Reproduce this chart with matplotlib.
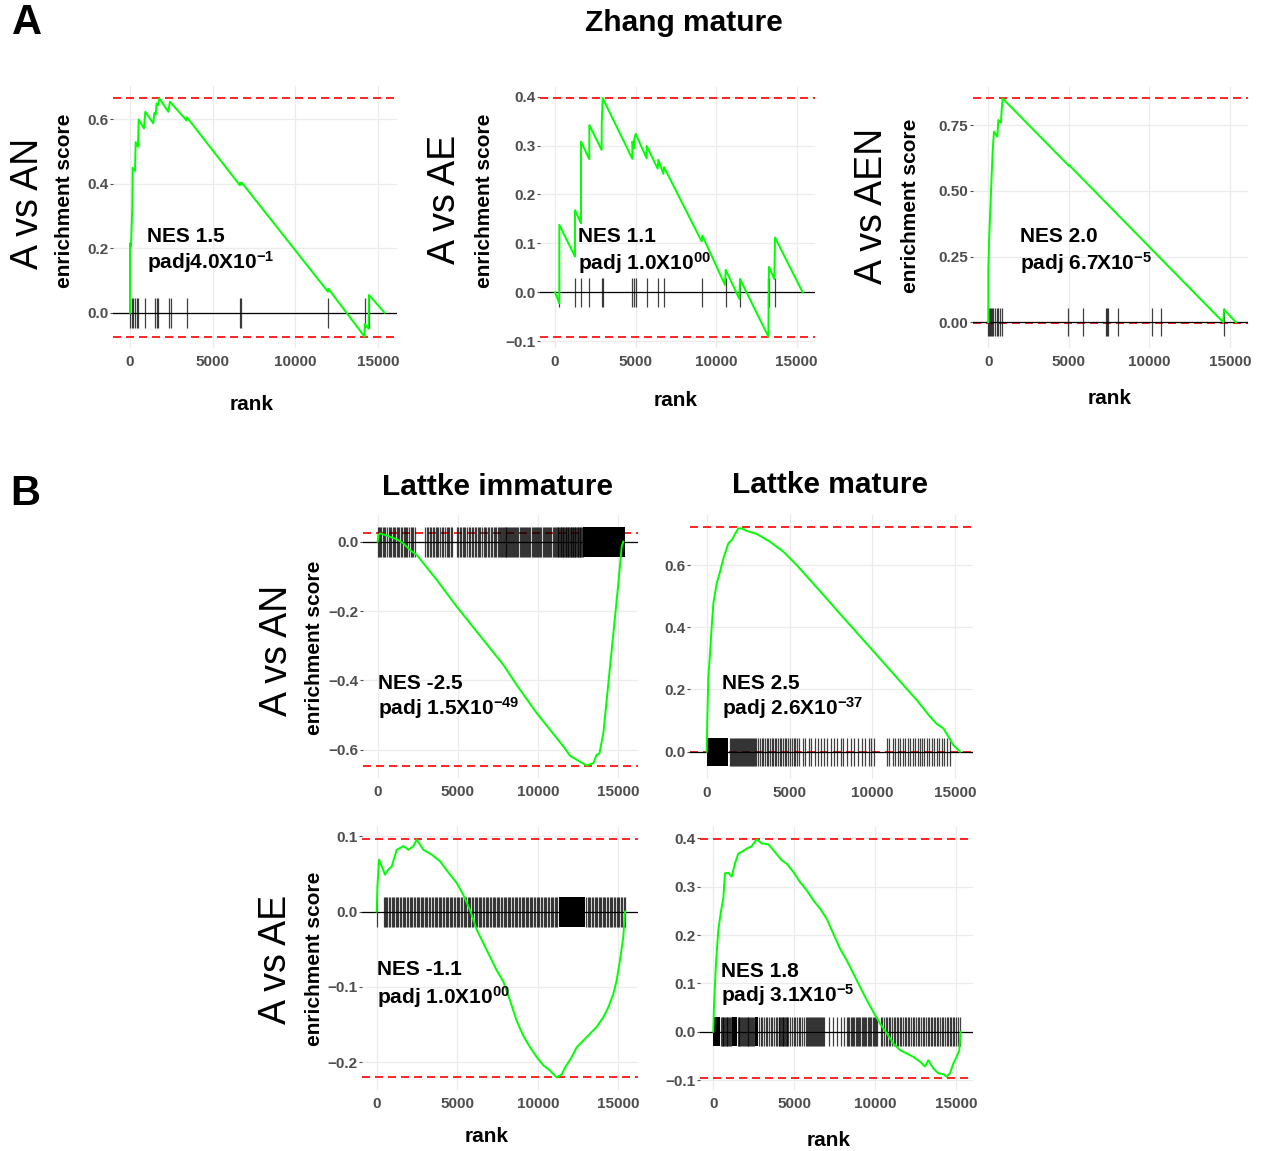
import matplotlib
matplotlib.use("Agg")
import matplotlib.pyplot as plt

plt.rcParams['font.family'] = ['Liberation Sans', 'DejaVu Sans']
plt.rcParams['mathtext.fontset'] = 'custom'
plt.rcParams['mathtext.rm'] = 'Liberation Sans:bold'
plt.rcParams['mathtext.it'] = 'Liberation Sans:bold'
plt.rcParams['mathtext.bf'] = 'Liberation Sans:bold'
plt.rcParams['mathtext.default'] = 'rm'

# ---------------- data ----------------
x_ticks = [0, 5000, 10000, 15000]

# A: Zhang mature
p1_rank = [0, 0, 60, 141, 161, 302, 342, 483, 523, 845, 926, 1409, 1469, 1550, 1610, 1700, 1771,
           2315, 2416, 3422, 3440, 6643, 6650, 6744, 6760, 11977, 11990, 14192, 14200, 14433, 14453, 15399]
p1_es = [0.0, 0.215, 0.205, 0.33, 0.45, 0.44, 0.53, 0.515, 0.60, 0.572, 0.624, 0.588, 0.62, 0.615, 0.65, 0.645, 0.666,
         0.624, 0.655, 0.597, 0.607, 0.396, 0.404, 0.398, 0.404, 0.065, 0.075, -0.0745, -0.035, -0.05, 0.055, 0.0]
p1_hits = [0, 100, 200, 300, 400, 500, 906, 1510, 1610, 1711, 2355, 2476, 3422, 6643, 6744, 11977, 14192, 14453]
p1_minmax = [0.666, -0.0745]
p1_yticks = [0.0, 0.2, 0.4, 0.6]
p1_ylabels = ["0.0", "0.2", "0.4", "0.6"]
p1_nes = ["NES 1.5", "padj4.0X10$^{-1}$"]

p2_rank = [0, 269, 269, 1241, 1241, 1614, 1614, 2131, 2131, 2897, 2900, 2959, 4800, 4800, 4903, 4905, 5007,
           5690, 5690, 6373, 6414, 6724, 6766, 9104, 9145, 10552, 10593, 11442, 11483, 13242, 13283, 13614, 13655, 15372]
p2_es = [0.0, -0.0225, 0.138, 0.073, 0.168, 0.141, 0.308, 0.272, 0.342, 0.291, 0.345, 0.397, 0.273, 0.308, 0.294, 0.31, 0.324,
         0.274, 0.299, 0.253, 0.271, 0.242, 0.256, 0.104, 0.116, 0.015, 0.046, -0.0136, 0.027, -0.0906, 0.052, 0.027, 0.112, 0.0]
p2_hits = [269, 1241, 1614, 2131, 2897, 2959, 4800, 4903, 5007, 5690, 6373, 6766, 9104, 10593, 11483, 13242, 13304, 13655]
p2_minmax = [0.397, -0.0906]
p2_yticks = [-0.1, 0.0, 0.1, 0.2, 0.3, 0.4]
p2_ylabels = ["\u22120.1", "0.0", "0.1", "0.2", "0.3", "0.4"]
p2_nes = ["NES 1.1", "padj 1.0X10$^{00}$"]

p3_rank = [0, 0, 62, 140, 207, 269, 352, 559, 621, 786, 828, 890, 5000, 5010, 14586, 14628, 15373]
p3_es = [0.0, 0.199, 0.332, 0.45, 0.56, 0.649, 0.725, 0.706, 0.769, 0.759, 0.807, 0.851, 0.595, 0.598, 0.0, 0.049, 0.0]
p3_hits = [0, 41, 103, 166, 228, 310, 414, 517, 621, 724, 828, 4924, 5855, 7283, 7345, 7448, 8069, 10138, 10697, 14628]
p3_minmax = [0.851, -0.003]
p3_yticks = [0.0, 0.25, 0.5, 0.75]
p3_ylabels = ["0.00", "0.25", "0.50", "0.75"]
p3_nes = ["NES 2.0", "padj 6.7X10$^{-5}$"]

# B: Lattke immature / mature
b1_rank = [0, 42, 145, 353, 769, 1184, 1600, 2016, 2431, 2847, 3678, 4925, 6587, 7834, 8665, 9912, 10743,
           11575, 11990, 12613, 13029, 13444, 13652, 13818, 14068, 14276, 14588, 14796, 15003, 15211, 15315]
b1_es = [0.0, 0.019, 0.024, 0.021, 0.014, 0.007, -0.005, -0.024, -0.038, -0.062, -0.11, -0.187, -0.283, -0.355, -0.413,
         -0.494, -0.542, -0.59, -0.617, -0.634, -0.645, -0.638, -0.614, -0.611, -0.552, -0.456, -0.312, -0.216, -0.12, -0.014, 0.0]
b1_hits = [0, 60, 150, 230, 330, 420, 480, 560, 690, 760, 850, 930, 1010, 1100, 1200, 1260, 1350, 1430, 1520, 1610,
           1680, 1770, 1850, 1950, 2050, 2130, 2230, 2310,
           2960, 3050, 3140, 3260, 3330, 3420, 3530, 3610, 3700, 3790, 3880, 3990, 4100, 4180, 4290, 4380, 4470, 4560, 4650,
           4940, 5020, 5130, 5210, 5300, 5400, 5470, 5560, 5680, 5760, 5850, 5940, 6040, 6130, 6230, 6320, 6400, 6510,
           6600, 6690, 6770, 6880, 6950, 7050, 7150, 7240, 7330, 7400,
           7530, 7580, 7630, 7690, 7740, 7800, 7850, 7920, 7970, 8030, 8090, 8150, 8200, 8260, 8330, 8390, 8450, 8510,
           8560, 8620, 8690, 8750,
           8880, 8950, 9010, 9060, 9130, 9190, 9260, 9330, 9390, 9460, 9520, 9600, 9670, 9730, 9800, 9870, 9930, 10000,
           10060, 10140, 10210, 10280, 10350, 10420, 10480, 10560, 10630, 10700, 10760, 10830, 10900, 10970, 11040, 11120,
           11180, 11220, 11270, 11310, 11350, 11400, 11440, 11490, 11530, 11580, 11620, 11660, 11710, 11750, 11800, 11840,
           11890, 11930, 11970, 12020, 12060, 12110, 12150, 12200, 12240, 12280, 12330, 12370, 12420, 12460, 12510, 12550,
           12600, 12640, 12680, 12730, 12770]
b1_blocks = [(12820, 15420)]
b1_minmax = [0.026, -0.646]
b1_yticks = [-0.6, -0.4, -0.2, 0.0]
b1_ylabels = ["\u22120.6", "\u22120.4", "\u22120.2", "0.0"]
b1_nes = ["NES -2.5", "padj 1.5X10$^{-49}$"]

b2_rank = [0, 40, 101, 201, 302, 403, 604, 805, 1007, 1208, 1308, 1510, 1711, 1912, 2114, 2416, 3020, 3825, 4630,
           5435, 6240, 7046, 7851, 8656, 9461, 10266, 11072, 11877, 12682, 13487, 13890, 14292, 14594, 14896, 15299]
b2_es = [0.0, 0.1125, 0.241, 0.316, 0.402, 0.477, 0.541, 0.579, 0.621, 0.654, 0.67, 0.68, 0.70, 0.718, 0.718, 0.71,
         0.70, 0.675, 0.643, 0.60, 0.552, 0.504, 0.455, 0.407, 0.359, 0.311, 0.2625, 0.214, 0.166, 0.1125, 0.089,
         0.075, 0.048, 0.021, 0.0]
b2_hits = [1400, 1450, 1510, 1560, 1620, 1690, 1740, 1800, 1870, 1930, 1990, 2050, 2120, 2180, 2240, 2300, 2370, 2430,
           2500, 2560, 2620, 2690, 2750, 2810, 2880, 2940, 3000,
           3120, 3230, 3330, 3420, 3520, 3650, 3720, 3810, 3930, 4020, 4130, 4200, 4330, 4420, 4500, 4620, 4720, 4810,
           4930, 5050, 5130, 5260, 5350, 5450, 5560,
           5800, 5950, 6150, 6300, 6550, 6700, 6900, 7100, 7250, 7500, 7700, 7850, 8100, 8250, 8500, 8700, 8900, 9150,
           9400, 9550, 9800, 9950, 10100,
           10900, 11000, 11250, 11400, 11550, 11700, 11850, 12000, 12150, 12300, 12450, 12600, 12750, 12900, 13000,
           13150, 13300, 13450, 13600, 13750, 13900, 14050, 14200, 14350, 14500, 14690]
b2_blocks = [(0, 1310)]
b2_minmax = [0.724, 0.0]
b2_yticks = [0.0, 0.2, 0.4, 0.6]
b2_ylabels = ["0.0", "0.2", "0.4", "0.6"]
b2_nes = ["NES 2.5", "padj 2.6X10$^{-37}$"]

b3_rank = [0, 41, 145, 310, 517, 724, 931, 1241, 1655, 1966, 2276, 2483, 2897, 3414, 3931, 4552, 4966, 5379, 5793,
           6207, 6621, 7035, 7448, 7862, 8276, 8690, 9103, 9517, 9931, 10345, 10759, 11172, 11483, 11690, 12103,
           12414, 12828, 13241, 13655, 14069, 14379, 14690, 14897, 15103, 15310, 15414]
b3_es = [0.0, 0.033, 0.069, 0.06, 0.049, 0.056, 0.06, 0.082, 0.087, 0.082, 0.087, 0.0956, 0.082, 0.0756, 0.0667,
         0.049, 0.038, 0.022, 0.002, -0.024, -0.042, -0.06, -0.078, -0.093, -0.118, -0.145, -0.165, -0.18, -0.193,
         -0.204, -0.211, -0.22, -0.216, -0.207, -0.193, -0.18, -0.171, -0.162, -0.153, -0.14, -0.127, -0.109,
         -0.091, -0.064, -0.033, 0.0]
b3_hits = [0, 420, 500, 590, 660, 760, 830, 920, 1010, 1090, 1180, 1260, 1350, 1440, 1520, 1600, 1700, 1780, 1870,
           1950, 2040, 2120, 2210, 2300, 2380, 2470, 2550, 2630, 2720, 2810, 2890, 2990, 3070, 3150, 3240, 3330,
           3410, 3500, 3590, 3670, 3760, 3840, 3930, 4020, 4100, 4190, 4270, 4360, 4450, 4530, 4620, 4700, 4790,
           4870, 4960, 5050, 5130, 5220, 5300, 5390, 5470, 5560, 5650, 5730, 5820, 5900, 5990, 6070, 6160, 6250,
           6330, 6420, 6500, 6590, 6670, 6760, 6850, 6930, 7020, 7100, 7190, 7270, 7360, 7450, 7530, 7620, 7700,
           7790, 7870, 7960, 8050, 8130, 8220, 8300, 8390, 8470, 8560, 8650, 8730, 8820, 8900, 8990, 9070, 9160,
           9250, 9330, 9420, 9500, 9590, 9670, 9760, 9850, 9930, 10020, 10100, 10190, 10270, 10360, 10450, 10530,
           10620, 10700, 10790, 10870, 10960, 11050, 11130, 11220,
           13000, 13090, 13170, 13260, 13340, 13430, 13520, 13600, 13690, 13770, 13860, 13940, 14030, 14120, 14200,
           14290, 14370, 14460, 14540, 14630, 14720, 14800, 14890, 14970, 15060, 15140, 15230, 15320, 15400]
b3_blocks = [(11300, 12900)]
b3_minmax = [0.096, -0.220]
b3_yticks = [-0.2, -0.1, 0.0, 0.1]
b3_ylabels = ["\u22120.2", "\u22120.1", "0.0", "0.1"]
b3_nes = ["NES -1.1", "padj 1.0X10$^{00}$"]

b4_rank = [0, 41, 165, 309, 453, 618, 721, 927, 1133, 1339, 1545, 1751, 2060, 2369, 2678, 2987, 3399, 3811, 4223,
           4532, 4944, 5356, 5768, 6180, 6592, 7004, 7416, 7828, 8240, 8652, 9064, 9476, 9888, 10300, 10712, 11124,
           11536, 11948, 12360, 12772, 13081, 13287, 13596, 13905, 14214, 14420, 14626, 14832, 15038, 15203, 15285]
b4_es = [0.0, 0.052, 0.141, 0.21, 0.245, 0.276, 0.328, 0.329, 0.321, 0.348, 0.369, 0.372, 0.379, 0.384, 0.398, 0.39,
         0.388, 0.372, 0.355, 0.348, 0.331, 0.31, 0.293, 0.272, 0.255, 0.234, 0.203, 0.172, 0.148, 0.121, 0.093,
         0.066, 0.041, 0.017, -0.003, -0.024, -0.038, -0.045, -0.052, -0.062, -0.072, -0.059, -0.076, -0.086,
         -0.088, -0.093, -0.086, -0.066, -0.052, -0.038, 0.0]
b4_hits = [470, 520, 570, 610, 660, 720, 770, 820, 870, 930, 980, 1030, 1090,
           1500, 1560, 1610, 1670, 1720, 1780, 1840, 1890, 1950, 2000, 2060, 2120, 2170, 2230, 2290, 2340, 2400,
           2460, 2520,
           2850, 2950, 3040, 3130, 3250, 3330, 3450, 3540, 3630, 3750, 3850, 3950,
           4030, 4080, 4130, 4180, 4230, 4280, 4330, 4380, 4430, 4480, 4530, 4580, 4630,
           4760, 4870, 4960, 5080, 5170, 5290, 5380, 5500, 5600,
           5700, 5760, 5830, 5890, 5960, 6020, 6090, 6150, 6220, 6280, 6350, 6410, 6480, 6540, 6610, 6670, 6740,
           6800, 6870,
           7150, 7400, 7650, 7900, 8100,
           8260, 8340, 8410, 8490, 8560, 8640, 8710, 8790, 8860, 8940, 9010, 9090, 9160, 9240, 9310, 9390, 9460,
           9540, 9610, 9690, 9760, 9840, 9910, 9990, 10060, 10140,
           10350, 10450, 10540, 10660, 10740, 10850, 10930, 11050, 11140, 11230, 11350, 11430, 11540, 11620, 11740,
           11830, 11920, 12040, 12120, 12230, 12330, 12420, 12540, 12620, 12730, 12820, 12940, 13030, 13120, 13240,
           13320, 13430, 13520, 13630, 13710, 13820, 13910, 14030, 14110, 14220, 14310, 14420, 14510, 14620, 14710,
           14820, 14900, 15010, 15100, 15240]
b4_blocks = [(0, 414), (1135, 1444), (2577, 2783)]
b4_minmax = [0.398, -0.095]
b4_yticks = [-0.1, 0.0, 0.1, 0.2, 0.3, 0.4]
b4_ylabels = ["\u22120.1", "0.0", "0.1", "0.2", "0.3", "0.4"]
b4_nes = ["NES 1.8", "padj 3.1X10$^{-5}$"]

# ---------------- layout (pixels in a 1262x1151 canvas) ----------------
W, H = 1262, 1151
# box = (left, right, top, bottom) px ; xlim ; ylim ; tick half height ; NES text pos (x, y1, y2)
layout = {
    "p1": dict(box=(113, 397, 86, 348), xlim=(-1028, 16150), ylim=(-0.1096, 0.704), half=0.047, nes=(1030, 0.238, 0.157)),
    "p2": dict(box=(540, 815, 87, 348), xlim=(-931, 16139), ylim=(-0.1139, 0.4198), half=0.030, nes=(1428, 0.114, 0.059)),
    "p3": dict(box=(973, 1248, 87, 348), xlim=(-950, 16120), ylim=(-0.0977, 0.8947), half=0.053, nes=(1968, 0.325, 0.225)),
    "b1": dict(box=(363, 638, 515, 778), xlim=(-916, 16228), ylim=(-0.681, 0.0769), half=0.043, nes=(40, -0.408, -0.480)),
    "b2": dict(box=(690, 973, 515, 779), xlim=(-1008, 16080), ylim=(-0.0878, 0.761), half=0.045, nes=(906, 0.220, 0.1395)),
    "b3": dict(box=(362, 638, 827, 1090), xlim=(-915, 16220), ylim=(-0.2367, 0.1123), half=0.020, nes=(0, -0.0773, -0.1127)),
    "b4": dict(box=(700, 973, 827, 1090), xlim=(-822, 16050), ylim=(-0.1207, 0.4238), half=0.030, nes=(457, 0.124, 0.076)),
}

fig = plt.figure(figsize=(W / 100, H / 100), dpi=100)


def ftext(x, y, s, **kw):
    fig.text(x / W, 1 - y / H, s, ha="center", va="center", **kw)


def draw_gsea(key, rank, es, hits, minmax, yticks, ylabels, nes, blocks=()):
    lay = layout[key]
    l, r, t, b = lay["box"]
    ax = fig.add_axes([l / W, 1 - b / H, (r - l) / W, (b - t) / H])
    ax.set_xlim(*lay["xlim"])
    ax.set_ylim(*lay["ylim"])
    for s in ax.spines.values():
        s.set_visible(False)
    ax.set_axisbelow(True)
    ax.grid(True, color="#EBEBEB", lw=0.9)
    ax.set_xticks(x_ticks, labels=[str(v) for v in x_ticks])
    ax.set_yticks(yticks, labels=ylabels)
    ax.tick_params(axis="x", length=0, pad=5)
    ax.tick_params(axis="y", length=2.5, width=0.8, color="#4D4D4D", pad=1)
    for lab in ax.get_xticklabels() + ax.get_yticklabels():
        lab.set_fontweight("bold")
        lab.set_fontsize(11)
        lab.set_color("#4D4D4D")

    half = lay["half"]
    for v in minmax:
        ax.axhline(v, color="#FF0000", lw=1.2, ls=(0, (4.8, 3)), zorder=2)
    ax.axhline(0, color="black", lw=0.9, zorder=3)
    ax.vlines(hits, -half, half, color="black", lw=0.9, alpha=0.75, zorder=4)
    for s0, s1 in blocks:
        ax.fill_between([s0, s1], -half, half, color="black", lw=0, zorder=4)
    ax.plot(rank, es, color="#00FF00", lw=1.4, zorder=5)

    nx, ny1, ny2 = lay["nes"]
    ax.text(nx, ny1, nes[0], fontsize=15, fontweight="bold", ha="left", va="center", zorder=6)
    ax.text(nx, ny2, nes[1], fontsize=15, fontweight="bold", ha="left", va="center", zorder=6)
    return ax


draw_gsea("p1", p1_rank, p1_es, p1_hits, p1_minmax, p1_yticks, p1_ylabels, p1_nes)
draw_gsea("p2", p2_rank, p2_es, p2_hits, p2_minmax, p2_yticks, p2_ylabels, p2_nes)
draw_gsea("p3", p3_rank, p3_es, p3_hits, p3_minmax, p3_yticks, p3_ylabels, p3_nes)
draw_gsea("b1", b1_rank, b1_es, b1_hits, b1_minmax, b1_yticks, b1_ylabels, b1_nes, b1_blocks)
draw_gsea("b2", b2_rank, b2_es, b2_hits, b2_minmax, b2_yticks, b2_ylabels, b2_nes, b2_blocks)
draw_gsea("b3", b3_rank, b3_es, b3_hits, b3_minmax, b3_yticks, b3_ylabels, b3_nes, b3_blocks)
draw_gsea("b4", b4_rank, b4_es, b4_hits, b4_minmax, b4_yticks, b4_ylabels, b4_nes, b4_blocks)

# panel letters and titles
ftext(27, 23, "A", fontsize=30, fontweight="bold")
ftext(684, 23, "Zhang mature", fontsize=21.5, fontweight="bold")
ftext(25, 494, "B", fontsize=30, fontweight="bold")
ftext(497, 487, "Lattke immature", fontsize=21.5, fontweight="bold")
ftext(830, 485, "Lattke mature", fontsize=21.5, fontweight="bold")

# comparison labels + y axis titles
for x, y, s in [(28, 203, "A vs AN"), (445, 199, "A vs AE"), (872, 206, "A vs AEN"),
                (277, 650, "A vs AN"), (276, 959, "A vs AE")]:
    ftext(x, y, s, fontsize=27, rotation=90)
for x, y in [(65, 201), (484, 201), (911, 206), (314, 648), (315, 959)]:
    ftext(x, y, "enrichment score", fontsize=15, fontweight="bold", rotation=90)
for x, y in [(252, 405), (676, 400), (1110, 399), (487, 1136), (829, 1140)]:
    ftext(x, y, "rank", fontsize=15, fontweight="bold")

fig.savefig("out.png", dpi=100)
